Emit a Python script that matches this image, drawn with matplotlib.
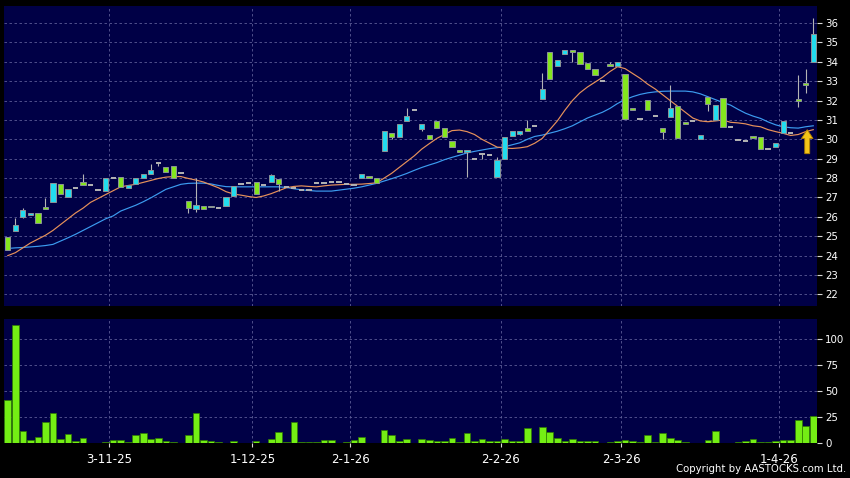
import matplotlib
matplotlib.use("Agg")
import matplotlib.pyplot as plt
from matplotlib.patches import Rectangle, FancyArrow

# ---- data ----
opens = [24.97, 25.28, 25.97, 26.08, 26.18, 26.50, 26.75, 27.68, 27.04, 27.47,
         27.78, 27.63, 27.37, 27.35, 28.00, 28.07, 27.47, 27.68, 27.99, 28.19,
         28.76, 28.59, 28.61, 28.24, 26.80, 26.42, 26.57, 26.57, 26.44, 26.57,
         27.09, 27.68, 27.76, 27.78, 27.63, 27.81, 27.93, 27.55, 27.50, 27.37,
         27.37, 27.73, 27.76, 27.78, 27.78, 27.70, 27.64, 27.98, 28.12, 27.98,
         29.41, 30.31, 30.10, 30.96, 31.50, 30.55, 30.22, 30.96, 30.57, 29.90,
         29.46, 29.34, 28.97, 29.22, 29.19, 28.07, 28.97, 30.18, 30.29, 30.58,
         30.67, 32.06, 34.49, 33.78, 34.40, 34.59, 34.49, 33.95, 33.61, 33.01,
         33.88, 33.78, 33.37, 31.61, 31.06, 32.03, 31.18, 30.57, 31.13, 31.72,
         30.88, 30.95, 30.00, 32.17, 31.00, 32.15, 30.63, 29.97, 29.93, 30.15,
         30.13, 29.48, 29.58, 30.34, 30.34, 32.06, 32.89, 33.97]
highs = [24.97, 25.92, 26.45, 26.18, 26.20, 26.99, 27.73, 27.68, 27.45, 27.47,
         28.21, 27.63, 27.37, 27.98, 28.00, 28.07, 27.64, 27.99, 28.21, 28.72,
         28.76, 28.59, 28.61, 28.24, 26.80, 27.99, 26.57, 26.57, 26.44, 27.00,
         27.60, 27.68, 27.76, 27.78, 27.63, 28.22, 27.93, 27.55, 27.50, 27.37,
         27.37, 27.73, 27.76, 27.78, 27.78, 27.70, 27.64, 28.19, 28.12, 27.98,
         30.44, 30.31, 30.79, 31.60, 31.50, 30.77, 30.22, 30.96, 30.57, 29.90,
         29.46, 29.46, 28.97, 29.22, 29.19, 29.07, 30.10, 30.44, 30.41, 31.00,
         30.67, 33.40, 34.49, 34.07, 34.59, 34.59, 34.49, 33.95, 33.61, 33.01,
         34.00, 33.99, 33.37, 31.61, 31.06, 32.03, 31.18, 30.57, 32.80, 31.72,
         30.88, 30.95, 30.25, 32.17, 31.78, 32.15, 30.63, 29.97, 29.93, 30.15,
         30.13, 29.48, 29.82, 30.96, 30.34, 33.32, 33.61, 36.24]
lows = [24.29, 25.28, 25.94, 26.08, 25.66, 26.39, 26.75, 27.16, 27.04, 27.47,
        27.63, 27.63, 27.37, 27.35, 28.00, 27.55, 27.47, 27.68, 27.99, 28.19,
        28.62, 28.33, 27.99, 28.24, 26.18, 26.25, 26.39, 26.49, 26.44, 26.57,
        27.09, 27.68, 27.76, 27.16, 27.63, 27.81, 27.35, 27.55, 27.50, 27.37,
        27.37, 27.73, 27.76, 27.78, 27.78, 27.70, 27.64, 27.98, 27.98, 27.76,
        29.41, 30.00, 30.10, 30.96, 31.50, 30.44, 30.00, 30.57, 30.12, 29.62,
        29.36, 28.07, 28.97, 28.97, 29.19, 28.07, 28.97, 30.18, 30.22, 30.44,
        30.67, 32.06, 33.09, 33.78, 34.40, 33.99, 33.87, 33.61, 33.30, 33.01,
        33.78, 33.78, 31.03, 31.51, 31.06, 31.51, 31.18, 30.00, 31.13, 30.05,
        30.77, 30.95, 30.00, 31.47, 31.00, 30.62, 30.63, 29.97, 29.93, 30.08,
        29.48, 29.48, 29.58, 30.34, 30.34, 31.68, 32.37, 33.97]
closes = [24.29, 25.56, 26.35, 26.18, 25.66, 26.39, 27.73, 27.16, 27.45, 27.47,
          27.63, 27.63, 27.37, 27.98, 28.00, 27.55, 27.64, 27.99, 28.21, 28.41,
          28.76, 28.33, 27.99, 28.24, 26.44, 26.59, 26.39, 26.49, 26.44, 27.00,
          27.60, 27.68, 27.76, 27.16, 27.63, 28.16, 27.68, 27.55, 27.50, 27.37,
          27.37, 27.73, 27.76, 27.78, 27.78, 27.70, 27.64, 28.19, 27.98, 27.76,
          30.44, 30.10, 30.79, 31.20, 31.50, 30.77, 30.00, 30.57, 30.12, 29.62,
          29.36, 29.46, 28.97, 29.22, 29.19, 28.93, 30.10, 30.44, 30.41, 30.44,
          30.67, 32.59, 33.09, 34.07, 34.59, 34.50, 33.87, 33.61, 33.30, 33.01,
          33.78, 33.99, 31.03, 31.51, 31.06, 31.51, 31.18, 30.36, 31.60, 30.05,
          30.77, 30.95, 30.25, 31.80, 31.78, 30.62, 30.63, 29.97, 29.93, 30.08,
          29.48, 29.48, 29.82, 30.96, 30.34, 31.98, 32.79, 35.43]
volumes = [41.7, 113.8, 11.9, 3.2, 6.1, 19.9, 28.5, 4.2, 9.0, 2.2,
           5.1, 0.3, 0.3, 1.0, 2.6, 3.2, 1.3, 8.0, 9.9, 3.5,
           5.1, 1.6, 1.0, 0.3, 7.4, 28.8, 3.2, 2.2, 1.3, 0.2,
           1.6, 0.0, 0.0, 1.6, 0.0, 3.5, 10.9, 1.3, 20.5, 0.6,
           1.0, 1.0, 2.9, 3.2, 0.0, 1.0, 2.6, 5.4, 0.3, 0.3,
           12.2, 7.4, 2.2, 3.8, 0.3, 3.5, 2.6, 1.6, 1.9, 5.1,
           1.0, 9.3, 1.9, 3.8, 1.9, 1.9, 3.8, 2.2, 2.2, 14.4,
           0.0, 15.7, 10.6, 4.8, 2.2, 3.8, 1.6, 1.6, 1.6, 0.0,
           1.3, 2.2, 2.9, 2.2, 1.0, 7.7, 1.0, 9.6, 4.5, 3.2,
           0.6, 0.0, 0.0, 2.6, 11.2, 0.2, 0.0, 1.0, 2.2, 3.8,
           1.0, 1.0, 2.2, 3.2, 3.2, 22.4, 16.3, 26.3]
ma_short = [24.00, 24.15, 24.40, 24.65, 24.85, 25.05, 25.30, 25.60, 25.90, 26.20,
            26.45, 26.75, 26.95, 27.15, 27.35, 27.55, 27.62, 27.68, 27.78, 27.88,
            27.98, 28.05, 28.08, 28.08, 27.98, 27.90, 27.80, 27.65, 27.50, 27.30,
            27.18, 27.12, 27.05, 27.00, 27.08, 27.20, 27.35, 27.50, 27.57, 27.60,
            27.57, 27.55, 27.60, 27.64, 27.66, 27.68, 27.68, 27.69, 27.72, 27.76,
            28.00, 28.25, 28.55, 28.85, 29.15, 29.50, 29.78, 30.05, 30.25, 30.45,
            30.48, 30.40, 30.25, 30.00, 29.80, 29.60, 29.55, 29.53, 29.56, 29.62,
            29.80, 30.05, 30.50, 30.95, 31.50, 32.00, 32.40, 32.70, 32.95, 33.20,
            33.50, 33.75, 33.65, 33.40, 33.15, 32.85, 32.60, 32.30, 32.00, 31.70,
            31.40, 31.10, 30.95, 30.91, 30.95, 31.00, 30.88, 30.85, 30.80, 30.70,
            30.65, 30.50, 30.40, 30.31, 30.20, 30.25, 30.40, 30.50]
ma_long = [24.37, 24.40, 24.42, 24.45, 24.48, 24.52, 24.58, 24.75, 24.92, 25.10,
           25.30, 25.50, 25.70, 25.90, 26.05, 26.30, 26.45, 26.60, 26.78, 26.98,
           27.20, 27.42, 27.55, 27.68, 27.73, 27.74, 27.74, 27.70, 27.62, 27.56,
           27.55, 27.55, 27.55, 27.55, 27.55, 27.55, 27.55, 27.52, 27.45, 27.40,
           27.36, 27.33, 27.33, 27.33, 27.38, 27.43, 27.48, 27.55, 27.64, 27.73,
           27.85, 27.97, 28.10, 28.24, 28.40, 28.55, 28.68, 28.80, 28.95, 29.07,
           29.18, 29.30, 29.38, 29.45, 29.52, 29.57, 29.62, 29.72, 29.82, 30.00,
           30.15, 30.22, 30.32, 30.42, 30.55, 30.70, 30.90, 31.10, 31.25, 31.40,
           31.60, 31.85, 32.05, 32.20, 32.32, 32.40, 32.45, 32.48, 32.49, 32.49,
           32.49, 32.45, 32.35, 32.20, 32.05, 31.90, 31.77, 31.55, 31.35, 31.20,
           31.08, 30.90, 30.75, 30.65, 30.60, 30.58, 30.65, 30.70]
date_labels = ["3-11-25", "1-12-25", "2-1-26", "2-2-26", "2-3-26", "1-4-26"]
date_bars = [13, 32, 45, 65, 81, 102]   # last bar before each month line
price_ticks = list(range(22, 37))
vol_ticks = [0, 25, 50, 75, 100]

BG = "#000046"
GRID = "#5c5c96"
UP = "#22dcee"
DOWN = "#84e61e"
EDGE = "#8c9496"
FLAT = "#b4b4b4"

n = len(closes)
xs = list(range(n))
month_lines = [b + 0.5 for b in date_bars]

fig = plt.figure(figsize=(8.5, 4.78), dpi=100)
fig.patch.set_facecolor("black")
ax = fig.add_axes([0.0047, 0.3598, 0.9565, 0.6276])
axv = fig.add_axes([0.0047, 0.0732, 0.9565, 0.2594])

for a in (ax, axv):
    a.set_facecolor(BG)
    for s in a.spines.values():
        s.set_visible(False)
    a.set_xlim(-0.5, n - 0.5)
    a.set_xticks(month_lines)
    a.yaxis.tick_right()
    a.tick_params(axis="y", colors="#d8d8d8", labelcolor="white", length=3.5,
                  width=0.8, pad=2.5, labelsize=7.4)
    a.grid(True, color=GRID, linestyle=(0, (3, 3)), linewidth=0.6)
    a.set_axisbelow(True)

# ---- price panel ----
ax.set_ylim(21.40, 36.88)
ax.set_yticks(price_ticks)
ax.tick_params(axis="x", length=0, labelbottom=False)

ax.plot(xs, ma_long, color="#3c9cf0", lw=0.85, zorder=2)
ax.plot(xs, ma_short, color="#e8925a", lw=0.85, zorder=2)

body_w = 0.7
for i in range(n):
    o, h, l, c = opens[i], highs[i], lows[i], closes[i]
    if h > max(o, c) or l < min(o, c):
        ax.vlines(i, l, h, color=FLAT, lw=0.8, zorder=3)
    if o == c:
        ax.hlines(o, i - body_w / 2, i + body_w / 2, color=FLAT, lw=1.4, zorder=4)
    else:
        col = UP if c > o else DOWN
        ax.add_patch(Rectangle((i - body_w / 2, min(o, c)), body_w, abs(c - o),
                               facecolor=col, edgecolor=EDGE, lw=0.7, zorder=4))

# arrow pointing at the latest average
tip = ma_short[-1]
ax.add_patch(FancyArrow(n - 1.8, tip - 1.24, 0, 1.24, width=0.66, head_width=1.55,
                        head_length=0.46, length_includes_head=True,
                        facecolor="#f5c518", edgecolor="#b08000", lw=0.6, zorder=6))

# ---- volume panel ----
axv.set_ylim(0, 119.7)
axv.set_yticks(vol_ticks)
axv.bar(xs, volumes, width=0.88, color="#74ee14", edgecolor="#2f7a00", lw=0.5, zorder=3)
axv.set_xticklabels(date_labels)
axv.tick_params(axis="x", colors="#d8d8d8", labelcolor="white", length=3, width=0.8,
                pad=4, labelsize=8.5)

fig.text(0.995, 0.008, "Copyright by AASTOCKS.com Ltd.", color="white", fontsize=7.3,
         ha="right", va="bottom")

fig.savefig("out.png", dpi=100, facecolor=fig.get_facecolor())
